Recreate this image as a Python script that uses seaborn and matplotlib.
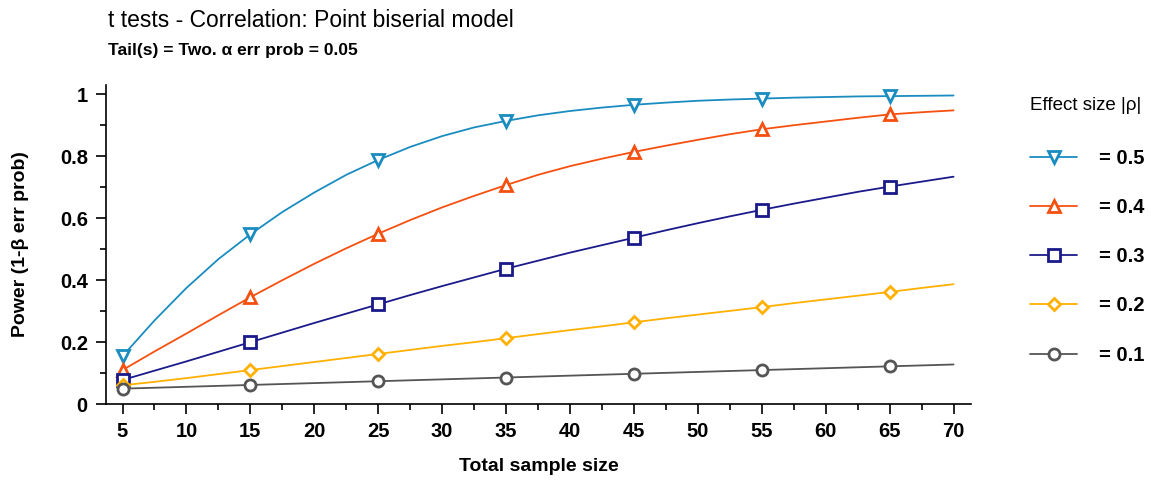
import matplotlib
matplotlib.use("Agg")
import matplotlib.pyplot as plt
import numpy as np
import pandas as pd
import seaborn as sns

sns.set_theme(style="white")
plt.rcParams["font.family"] = ["Liberation Sans", "DejaVu Sans"]
plt.rcParams["text.color"] = "black"
plt.rcParams["axes.labelcolor"] = "black"

# ------------------------------------------
# Data
# ------------------------------------------
sample_size = [5, 7.5, 10, 12.5, 15, 17.5, 20, 22.5, 25, 27.5, 30, 32.5, 35, 37.5,
               40, 42.5, 45, 47.5, 50, 52.5, 55, 57.5, 60, 62.5, 65, 67.5, 70]

power_05 = [0.155, 0.27, 0.375, 0.468, 0.548, 0.62, 0.683, 0.74, 0.788, 0.83, 0.865,
            0.893, 0.914, 0.932, 0.946, 0.957, 0.966, 0.973, 0.979, 0.983, 0.986,
            0.989, 0.991, 0.993, 0.994, 0.995, 0.996]
power_04 = [0.11, 0.17, 0.228, 0.287, 0.345, 0.40, 0.453, 0.503, 0.55, 0.594, 0.635,
            0.672, 0.707, 0.74, 0.768, 0.792, 0.814, 0.834, 0.853, 0.871, 0.887,
            0.9, 0.912, 0.924, 0.935, 0.942, 0.948]
power_03 = [0.078, 0.108, 0.138, 0.169, 0.2, 0.231, 0.262, 0.292, 0.322, 0.352, 0.381,
            0.409, 0.437, 0.463, 0.489, 0.513, 0.537, 0.561, 0.584, 0.606, 0.627,
            0.647, 0.666, 0.685, 0.702, 0.718, 0.734]
power_02 = [0.061, 0.072, 0.084, 0.097, 0.11, 0.123, 0.136, 0.149, 0.162, 0.175, 0.188,
            0.2, 0.213, 0.226, 0.239, 0.251, 0.264, 0.277, 0.289, 0.301, 0.313,
            0.326, 0.338, 0.35, 0.362, 0.375, 0.387]
power_01 = [0.05, 0.053, 0.056, 0.059, 0.062, 0.065, 0.068, 0.071, 0.074, 0.077, 0.08,
            0.083, 0.086, 0.089, 0.092, 0.095, 0.098, 0.101, 0.104, 0.107, 0.11,
            0.113, 0.116, 0.119, 0.122, 0.125, 0.128]

effect_labels = ["= 0.5", "= 0.4", "= 0.3", "= 0.2", "= 0.1"]
series = [power_05, power_04, power_03, power_02, power_01]
colors = ["#1a8cc0", "#f5500f", "#1a1a8a", "#ffb000", "#555555"]
markers = ["v", "^", "s", "D", "o"]
marker_sizes = [9, 9, 9, 6, 8]

df = pd.concat(
    [pd.DataFrame({"n": sample_size, "power": vals, "effect": lab})
     for vals, lab in zip(series, effect_labels)],
    ignore_index=True,
)

fig = plt.figure(figsize=(11.51, 4.8), dpi=100)
ax = fig.add_axes([0.092, 0.158, 0.752, 0.665])

# markers sit at 5, 15, ..., 65 -> every 4th point of the 2.5 grid
handles = []
for lab, col, mk, ms in zip(effect_labels, colors, markers, marker_sizes):
    sub = df[df["effect"] == lab]
    sns.lineplot(
        data=sub, x="n", y="power", ax=ax, color=col, linewidth=1.3,
        marker=mk, markersize=ms, markevery=(0, 4),
        markerfacecolor="white", markeredgecolor=col, markeredgewidth=2,
    )
    handles.append(ax.lines[-1])

ax.set_xlim(3.7, 71.4)
ax.set_ylim(0, 1.03)
ax.set_xticks(range(5, 75, 5))
ax.set_xticks(np.arange(7.5, 71, 5), minor=True)
ax.set_yticks([0, 0.2, 0.4, 0.6, 0.8, 1.0])
ax.set_yticklabels(["0", "0.2", "0.4", "0.6", "0.8", "1"])
ax.set_yticks(np.arange(0.1, 1.0, 0.2), minor=True)

for side in ["top", "right"]:
    ax.spines[side].set_visible(False)
for side in ["left", "bottom"]:
    ax.spines[side].set_color("black")
    ax.spines[side].set_linewidth(1.2)

ax.tick_params(axis="both", which="major", direction="out", length=7, width=1.2,
               colors="black", labelsize=14.5, pad=6)
ax.tick_params(axis="both", which="minor", direction="out", length=4, width=1.2, colors="black")
ax.tick_params(axis="x", which="both", bottom=True)
ax.tick_params(axis="y", which="both", left=True)
for t in ax.get_xticklabels() + ax.get_yticklabels():
    t.set_fontweight("bold")

ax.set_xlabel("Total sample size", fontsize=14, fontweight="bold", labelpad=12)
ax.set_ylabel("Power (1-β err prob)", fontsize=14, fontweight="bold", labelpad=22)

fig.text(0.094, 0.958, "t tests - Correlation: Point biserial model", fontsize=16.5,
         ha="left", va="center")
fig.text(0.094, 0.895, "Tail(s) = Two. α err prob = 0.05", fontsize=12.5,
         fontweight="bold", ha="left", va="center")

leg = ax.legend(
    handles, effect_labels, title="Effect size |ρ|", loc="upper left",
    bbox_to_anchor=(1030 / 1151, 1 - 97 / 480), bbox_transform=fig.transFigure,
    frameon=False, fontsize=14.5, title_fontsize=13.5,
    labelspacing=1.5, handlelength=2.35, handletextpad=1.1, borderaxespad=0,
    borderpad=0,
)
leg._legend_box.align = "left"
leg._legend_box.sep = 25
for t in leg.get_texts():
    t.set_fontweight("bold")

fig.savefig("out.png", dpi=100)
